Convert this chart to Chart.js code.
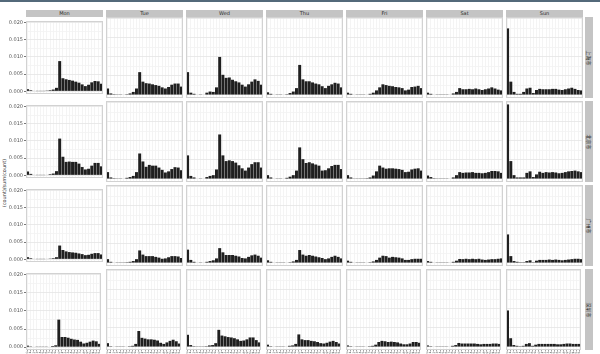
<!DOCTYPE html>
<html><head><meta charset="utf-8">
<script src="https://cdn.jsdelivr.net/npm/chart.js@4/dist/chart.umd.min.js"></script>
<style>
html,body{margin:0;padding:0;background:#fff;width:600px;height:354px;overflow:hidden;position:relative;font-family:"DejaVu Sans","Noto Sans CJK SC",sans-serif;}
canvas{position:absolute;}
.strip{position:absolute;background:#c4c4c4;color:#2a2a2a;font-size:5px;line-height:7px;text-align:center;font-family:"DejaVu Sans",sans-serif;}
.rstrip{position:absolute;background:#c4c4c4;}
.rstrip span{position:absolute;left:50%;top:50%;transform:translate(-50%,-50%) rotate(90deg);white-space:nowrap;font-size:5px;line-height:5px;color:#2a2a2a;font-family:"Noto Sans CJK SC",sans-serif;}
.ytitle{position:absolute;left:4px;top:183px;transform:translate(-50%,-50%) rotate(-90deg);white-space:nowrap;font-size:5px;color:#333;}
.topbar{position:absolute;left:0;top:0;width:600px;height:2px;background:#53697a;}
</style></head><body>
<div class="topbar"></div>
<script>
// ---- data (shares in units of 0.001, i.e. per-mille) ----
const hours = ['0','1','2','3','4','5','6','7','8','9','10','11','12','13','14','15','16','17','18','19','20','21','22','23'];
const days = ['Mon','Tue','Wed','Thu','Fri','Sat','Sun'];
const cities = ['上海市','北京市','广州市','深圳市'];
const yGridValues = [0,2.5,5,7.5,10,12.5,15,17.5,20];
const yLabelValues = [0,5,10,15,20];
const yTitle = '(count)/sum(count)';

const c1Mon = [0.6,0.3,0.1,0.05,0.05,0.05,0.2,0.3,0.5,1.0,8.8,3.8,3.5,3.3,3.1,2.8,2.5,2.0,1.5,1.9,2.6,3.0,2.9,2.2];
const c1Tue = [1.7,0.4,0.2,0.05,0.05,0.1,0.2,0.4,0.8,1.7,6.0,3.5,3.1,3.0,2.8,2.6,2.4,2.0,1.7,2.1,2.7,3.0,3.0,2.2];
const c1Wed = [6.0,0.6,0.3,0.1,0.05,0.1,0.6,0.9,0.8,2.0,10.0,5.3,4.5,4.6,4.0,3.6,3.3,2.7,2.2,2.8,3.5,4.1,3.7,2.7];
const c1Thu = [0.7,0.3,0.1,0.05,0.05,0.1,0.2,0.5,0.9,1.8,7.9,4.1,3.6,3.6,3.3,3.0,2.8,2.3,1.8,2.4,2.8,3.2,3.0,2.0];
const c1Fri = [0.6,0.3,0.1,0.05,0.05,0.05,0.1,0.3,0.6,1.2,2.0,2.8,2.6,2.4,2.3,2.1,2.0,1.8,1.2,1.4,2.1,2.2,2.4,1.8];
const c1Sat = [0.6,0.3,0.1,0.05,0.05,0.05,0.05,0.1,0.4,0.8,1.8,1.5,1.5,1.6,1.5,1.7,1.5,1.3,1.5,1.7,2.0,1.7,1.4,1.2];
const c1Sun = [17.5,3.5,0.8,0.3,0.3,0.8,1.7,1.9,0.5,1.3,1.6,1.5,1.5,1.5,1.6,1.6,1.4,1.3,1.5,1.7,1.9,1.6,1.3,1.2];

const c2Mon = [1.1,0.4,0.1,0.05,0.05,0.05,0.1,0.3,0.5,1.2,10.7,5.4,3.9,4.0,3.9,3.9,3.4,2.4,1.7,1.9,2.8,3.6,3.6,2.6];
const c2Tue = [1.8,0.4,0.2,0.05,0.05,0.1,0.3,0.5,0.8,1.8,6.7,4.6,3.2,3.7,3.5,3.5,3.0,2.4,1.7,2.0,2.6,3.1,3.0,2.3];
const c2Wed = [6.2,0.8,0.4,0.1,0.05,0.1,0.5,0.8,1.0,2.5,11.7,6.2,4.7,4.9,4.7,4.3,3.6,2.8,2.2,3.0,3.9,4.4,4.4,3.0];
const c2Thu = [1.0,0.4,0.1,0.05,0.05,0.1,0.3,0.6,1.0,2.2,8.3,5.2,4.2,4.4,4.1,3.8,3.5,2.2,2.3,2.8,3.4,3.7,3.7,2.6];
const c2Fri = [1.0,0.4,0.15,0.05,0.05,0.05,0.2,0.4,0.9,2.0,3.5,3.0,2.7,2.8,2.8,2.7,2.6,2.4,1.8,1.9,2.5,2.7,2.8,2.2];
const c2Sat = [0.9,0.5,0.2,0.05,0.05,0.05,0.05,0.1,0.4,1.0,1.8,1.6,1.7,1.7,1.8,1.6,1.6,1.5,1.6,1.8,2.1,2.1,2.0,1.6];
const c2Sun = [19.6,4.7,1.0,0.4,0.4,0.4,1.6,2.0,0.5,1.2,1.9,1.6,1.8,1.7,1.8,1.7,1.5,1.6,1.8,2.0,2.1,2.2,2.0,1.8];

const c3Mon = [0.6,0.3,0.1,0.05,0.05,0.05,0.1,0.2,0.3,0.6,4.0,2.7,2.3,2.1,2.0,1.9,1.7,1.5,1.2,1.3,1.6,1.8,1.8,1.4];
const c3Tue = [1.0,0.3,0.1,0.05,0.05,0.05,0.2,0.3,0.5,1.0,3.3,2.2,1.8,1.8,1.8,1.6,1.4,1.1,1.2,1.5,1.8,1.8,1.7,1.3];
const c3Wed = [3.5,0.8,0.3,0.1,0.05,0.1,0.3,0.5,0.7,1.2,3.9,2.8,2.1,2.1,2.1,1.9,1.7,1.3,1.2,1.6,2.0,2.2,1.9,1.4];
const c3Thu = [0.7,0.3,0.1,0.05,0.05,0.05,0.1,0.2,0.4,0.8,3.4,2.2,1.9,2.1,1.9,1.7,1.5,1.3,1.0,1.2,1.6,1.9,1.6,1.2];
const c3Fri = [0.6,0.3,0.1,0.05,0.05,0.05,0.1,0.2,0.4,0.8,1.4,1.9,1.8,1.4,1.6,1.5,1.4,1.2,0.8,0.8,1.0,1.1,1.1,1.1];
const c3Sat = [0.5,0.3,0.1,0.05,0.05,0.05,0.05,0.1,0.3,0.6,1.05,1.0,1.1,1.0,1.1,1.0,1.1,0.9,0.8,0.9,1.0,1.0,1.1,1.2];
const c3Sun = [7.5,1.8,0.5,0.3,0.2,0.2,0.5,0.7,0.2,0.6,0.8,0.8,0.8,0.9,0.8,0.9,0.8,0.7,0.8,0.9,1.0,1.1,1.1,1.0];

const c4Mon = [0.4,0.2,0.1,0.05,0.05,0.05,0.05,0.1,0.3,0.5,7.6,2.8,2.8,2.6,2.3,2.1,2.0,1.5,1.0,1.2,1.5,1.8,1.6,0.9];
const c4Tue = [1.0,0.2,0.1,0.05,0.05,0.05,0.1,0.2,0.3,0.8,4.2,2.4,2.2,2.0,2.0,1.9,1.7,1.1,0.8,1.2,1.6,1.9,1.5,0.9];
const c4Wed = [3.2,0.5,0.2,0.05,0.05,0.05,0.2,0.4,0.5,1.0,4.5,3.0,2.8,2.6,2.5,2.3,2.0,1.6,1.7,2.0,2.5,2.5,1.8,1.2];
const c4Thu = [0.6,0.2,0.1,0.05,0.05,0.05,0.1,0.3,0.4,0.8,3.3,2.0,1.8,1.8,1.6,1.5,1.3,1.0,0.9,1.1,1.4,1.6,1.3,0.9];
const c4Fri = [0.4,0.2,0.1,0.05,0.05,0.05,0.1,0.2,0.3,0.6,1.3,1.6,1.5,1.3,1.4,1.3,1.2,0.9,0.7,0.7,0.9,1.3,1.3,1.1];
const c4Sat = [0.4,0.2,0.1,0.05,0.05,0.05,0.05,0.1,0.3,0.5,1.05,0.9,0.9,0.9,0.9,0.9,0.8,0.7,0.8,0.8,0.8,0.9,0.9,0.8];
const c4Sun = [9.6,2.3,0.5,0.3,0.2,0.3,0.8,1.0,0.3,0.6,0.8,0.8,0.8,0.8,0.8,0.8,0.7,0.7,0.8,0.9,0.9,0.8,0.8,0.8];

const grid = [
  [c1Mon,c1Tue,c1Wed,c1Thu,c1Fri,c1Sat,c1Sun],
  [c2Mon,c2Tue,c2Wed,c2Thu,c2Fri,c2Sat,c2Sun],
  [c3Mon,c3Tue,c3Wed,c3Thu,c3Fri,c3Sat,c3Sun],
  [c4Mon,c4Tue,c4Wed,c4Thu,c4Fri,c4Sat,c4Sun]
];

// ---- layout ----
const LEFT0 = 26, PANEL_W = 77, PITCH_X = 80;
const TOP0 = 17, PANEL_H = 81, PITCH_Y = 84;
const PAGE_H = 354;
const Y_MIN = -0.8, Y_MAX = 20.5;

const borderPlugin = {
  id: 'panelBorder',
  afterDraw(chart) {
    const {ctx, chartArea: a} = chart;
    ctx.save();
    ctx.strokeStyle = '#d2d2d2';
    ctx.lineWidth = 1;
    ctx.strokeRect(a.left + 0.5, a.top + 0.5, a.right - a.left - 1, a.bottom - a.top - 1);
    ctx.restore();
  }
};

const body = document.body;

const yt = document.createElement('div');
yt.className = 'ytitle'; yt.textContent = yTitle; body.appendChild(yt);

days.forEach((d, c) => {
  const s = document.createElement('div');
  s.className = 'strip';
  s.style.left = (LEFT0 + PITCH_X * c) + 'px';
  s.style.top = '10px';
  s.style.width = PANEL_W + 'px';
  s.style.height = '7px';
  s.textContent = d;
  body.appendChild(s);
});
cities.forEach((name, r) => {
  const s = document.createElement('div');
  s.className = 'rstrip';
  s.style.left = (LEFT0 + PITCH_X * 6 + PANEL_W + 2) + 'px';
  s.style.top = (TOP0 + PITCH_Y * r) + 'px';
  s.style.width = '8px';
  s.style.height = PANEL_H + 'px';
  const sp = document.createElement('span'); sp.textContent = name; s.appendChild(sp);
  body.appendChild(s);
});

for (let r = 0; r < cities.length; r++) {
  for (let c = 0; c < days.length; c++) {
    const isLeft = c === 0, isBottom = r === cities.length - 1;
    const left = isLeft ? 0 : LEFT0 + PITCH_X * c;
    const w = isLeft ? LEFT0 + PANEL_W : PANEL_W;
    const top = TOP0 + PITCH_Y * r;
    const h = isBottom ? PAGE_H - top : PANEL_H;
    const cv = document.createElement('canvas');
    cv.width = w; cv.height = h;
    cv.style.left = left + 'px'; cv.style.top = top + 'px';
    cv.style.width = w + 'px'; cv.style.height = h + 'px';
    body.appendChild(cv);

    new Chart(cv.getContext('2d'), {
      type: 'bar',
      data: {
        labels: hours,
        datasets: [{
          data: grid[r][c],
          backgroundColor: '#1f1f1f',
          borderWidth: 0,
          barPercentage: 0.92,
          categoryPercentage: 1.0
        }]
      },
      options: {
        responsive: false,
        animation: false,
        devicePixelRatio: 1,
        layout: {padding: 0},
        plugins: {legend: {display: false}, tooltip: {enabled: false}},
        scales: {
          x: {
            type: 'category',
            offset: true,
            grid: {offset: false, color: '#ececec', lineWidth: 0.6, drawTicks: isBottom, tickLength: 1.5, tickColor: '#666'},
            border: {display: false},
            ticks: {display: isBottom, autoSkip: false, minRotation: 90, maxRotation: 90, padding: 0,
                    font: {size: 3, family: 'DejaVu Sans'}, color: '#555'},
            afterFit(s) { s.height = isBottom ? (h - PANEL_H) : 0; }
          },
          y: {
            min: Y_MIN, max: Y_MAX,
            afterBuildTicks(s) { s.ticks = yGridValues.map(v => ({value: v})); },
            grid: {
              color: ctx => (ctx.tick && yLabelValues.includes(ctx.tick.value)) ? '#e4e4e4' : '#f2f2f2',
              lineWidth: 0.8,
              drawTicks: isLeft, tickLength: 2,
              tickColor: ctx => (ctx.tick && yLabelValues.includes(ctx.tick.value)) ? '#555' : 'rgba(0,0,0,0)'
            },
            border: {display: false},
            ticks: {
              display: isLeft, padding: 1,
              font: {size: 5, family: 'DejaVu Sans'}, color: '#555',
              callback: v => yLabelValues.includes(v) ? (v / 1000).toFixed(3) : ''
            },
            afterFit(s) { s.width = isLeft ? LEFT0 : 0; }
          }
        }
      },
      plugins: [borderPlugin]
    });
  }
}
</script>
</body></html>
